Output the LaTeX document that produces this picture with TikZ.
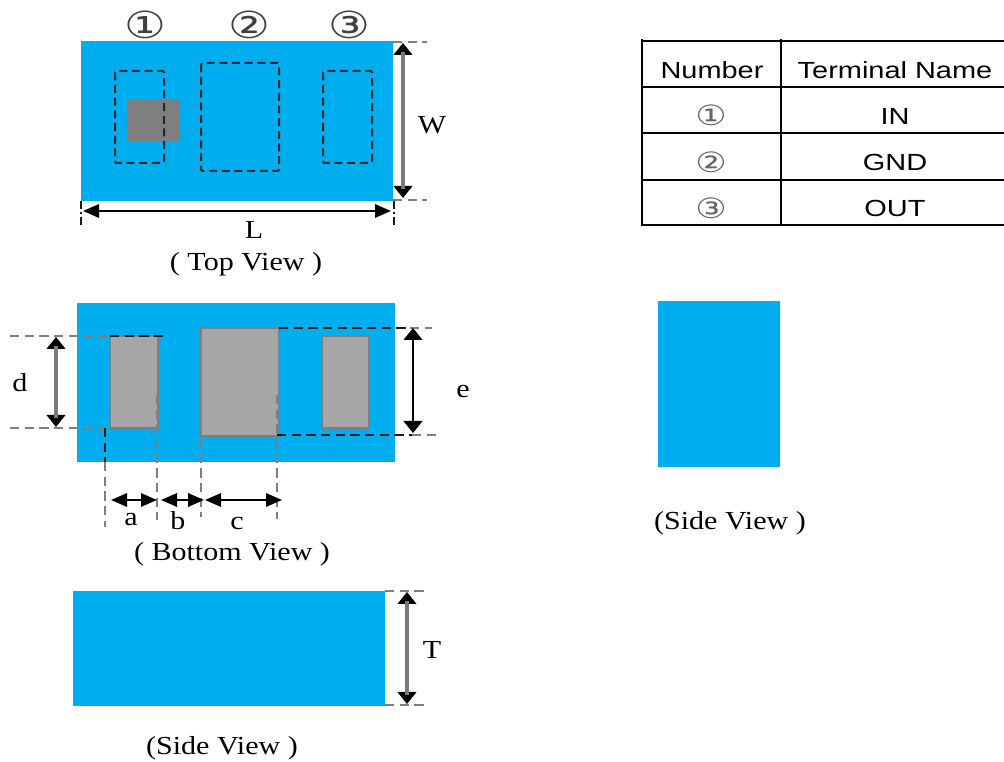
\documentclass[tikz,border=0pt]{standalone}
\usepackage{fontspec}
\usetikzlibrary{arrows.meta}
\newfontfamily\serifl[FakeStretch=1.155]{Liberation Serif}
\newfontfamily\sansl[FakeStretch=1.24]{Liberation Sans}
\newfontfamily\symb[FakeStretch=1.25]{DejaVu Sans}
\definecolor{bodyblue}{HTML}{00AEEF}
\definecolor{padgray}{HTML}{A6A6A6}
\definecolor{edgegray}{HTML}{7F7F7F}
\definecolor{inkdark}{HTML}{1A1A1A}
\definecolor{shaft}{HTML}{7A7A7A}
\tikzset{
  body/.style={fill=bodyblue,draw=none},
  padbox/.style={fill=padgray,draw=edgegray,line width=1.8pt},
  hidden/.style={draw=black!85,line width=1.5pt,dash pattern=on 6pt off 3.5pt,rounded corners=1pt},
  extg/.style={draw=edgegray,line width=1.3pt,dash pattern=on 7pt off 4pt},
  extk/.style={draw=inkdark,line width=1.3pt,dash pattern=on 7pt off 4pt},
  dimh/.style={draw=black,line width=1.5pt,{Triangle[width=10pt,length=12pt]}-{Triangle[width=10pt,length=12pt]}},
  dimv/.style={draw=black,line width=1.5pt,{Triangle[width=14pt,length=9pt]}-{Triangle[width=14pt,length=9pt]}},
  dimvg/.style={dimv,postaction={draw=shaft,line width=3pt,arrows=-,shorten >=7pt,shorten <=7pt}},
  lab/.style={font=\serifl\fontsize{19.5}{22}\selectfont,text=black,inner sep=0pt},
  tab/.style={font=\sansl\fontsize{17.5}{20}\selectfont,text=black,inner sep=0pt},
  circ/.style={font=\symb\fontsize{28}{30}\selectfont,inner sep=0pt,text=black!75},
  circs/.style={font=\symb\fontsize{21}{24}\selectfont,inner sep=0pt,text=black!60},
  rule/.style={draw=black,line width=1pt}
}
\begin{document}
\begin{tikzpicture}[x=0.75pt,y=-0.75pt]
\useasboundingbox (0,0) rectangle (1004,762);
% top view
\fill[body] (81,41) rectangle (393,201);
\fill[edgegray] (127,100) rectangle (180,141);
\draw[hidden] (115,71) rectangle (164,163);
\draw[hidden] (201,63) rectangle (279,171);
\draw[hidden] (323,71) rectangle (372,163);
\node[circ] (n1) at (145,25) {①};
\node[circ] (n2) at (249,25) {②};
\node[circ] (n3) at (349,25) {③};
\draw[extg] (393,42) -- (427,42);
\draw[extg] (393,200) -- (427,200);
\draw[extk,dash pattern=on 6pt off 2pt on 2pt off 2pt] (81,201) -- (81,226);
\draw[extk,dash pattern=on 6pt off 2pt on 2pt off 2pt] (394,201) -- (394,226);
\draw[dimvg] (403,43) -- (403,198);
\draw[dimh] (83,211) -- (391,211);
\node[lab] (w) at (432,125) {W};
\node[lab] (l) at (254,230) {L};
\node[lab] (tv) at (246,264) {( Top View )};
% bottom view
\fill[body] (77,303) rectangle (395,462);
\draw[padbox] (110,336) rectangle (158,428);
\draw[padbox] (201,328) rectangle (279,436);
\draw[padbox] (322,336) rectangle (369,428);
\draw[extg] (10,336) -- (110,336);
\draw[extk] (110,336) -- (165,336);
\draw[extg] (10,428) -- (110,428);
\draw[extk] (279,328) -- (410,328);
\draw[extg] (410,328) -- (432,328);
\draw[extk] (277,435) -- (412,435);
\draw[extg] (412,435) -- (440,435);
\draw[extk] (105,428) -- (105,462);
\draw[extg] (105,462) -- (105,527);
\draw[extg] (157,395) -- (157,520);
\draw[extg] (201,395) -- (201,517);
\draw[extg] (277,395) -- (277,519);
\draw[dimvg] (56,337) -- (56,427);
\draw[dimv] (413,328) -- (413,433);
\draw[dimh] (111,500) -- (157,500);
\draw[dimh] (161,500) -- (204,500);
\draw[dimh] (205,500) -- (282,500);
\node[lab] (d) at (20,383) {d};
\node[lab] (e) at (463,392) {e};
\node[lab] (a) at (131,520) {a};
\node[lab] (b) at (178,521) {b};
\node[lab] (c) at (237,524) {c};
\node[lab] (bv) at (232,554) {( Bottom View )};
% lower side view
\fill[body] (73,591) rectangle (385,706);
\draw[extg] (385,591) -- (425,591);
\draw[extg] (385,705) -- (425,705);
\draw[dimvg] (407,592) -- (407,704);
\node[lab] (t) at (432,650) {T};
\node[lab] (sv1) at (222,748) {(Side View )};
% right side view
\fill[body] (658,301) rectangle (780,467);
\node[lab] (sv2) at (730,523) {(Side View )};
% table
\draw[rule] (642,41) -- (1004,41);
\draw[rule] (642,87) -- (1004,87);
\draw[rule] (642,133) -- (1004,133);
\draw[rule] (642,180) -- (1004,180);
\draw[rule] (642,225) -- (1004,225);
\draw[rule] (642,39) -- (642,226);
\draw[rule] (781,39) -- (781,226);
\node[tab] (h1) at (712,70) {Number};
\node[tab] (h2) at (895,70) {Terminal Name};
\node[circs] (r1) at (711,115) {①};
\node[circs] (r2) at (711,162) {②};
\node[circs] (r3) at (711,208) {③};
\node[tab] (c1) at (895,116) {IN};
\node[tab] (c2) at (895,162) {GND};
\node[tab] (c3) at (895,208) {OUT};
\end{tikzpicture}
\end{document}
